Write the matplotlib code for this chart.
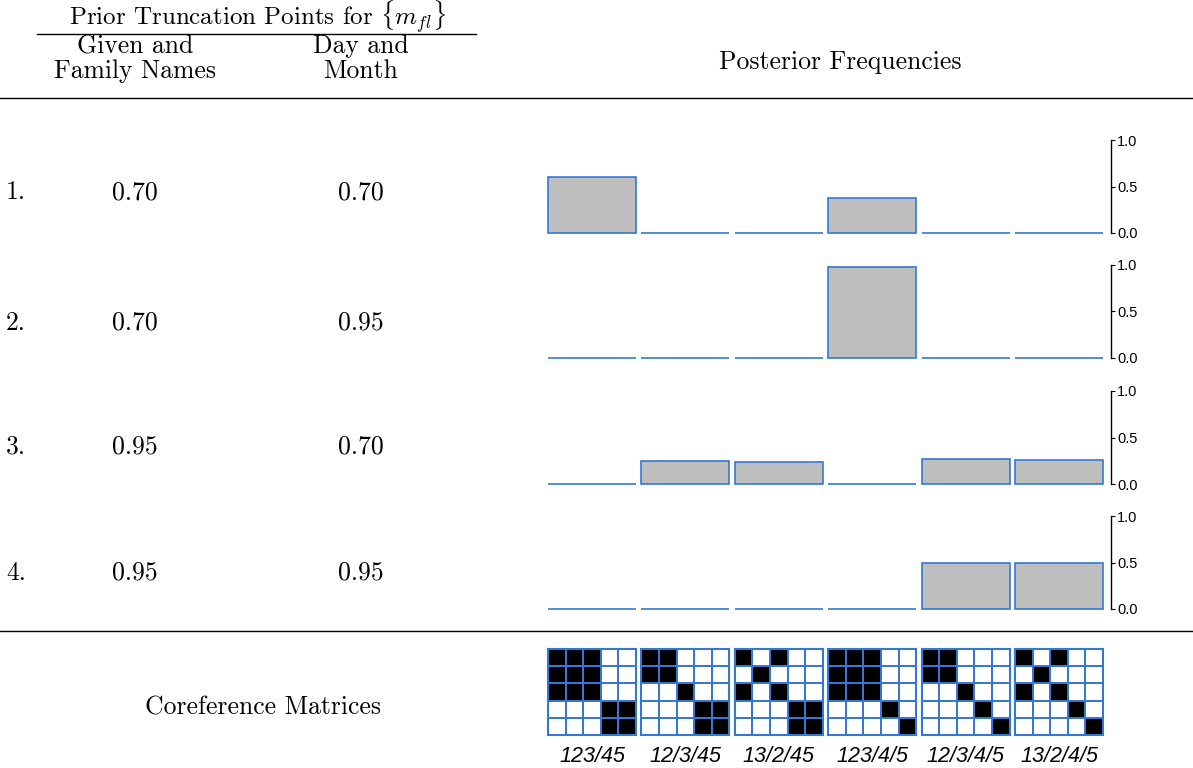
import matplotlib.pyplot as plt
import numpy as np

plt.rcParams['mathtext.fontset'] = 'cm'
plt.rcParams['axes.unicode_minus'] = False

# data
row_labels = ['1.', '2.', '3.', '4.']
given_names = ['0.70', '0.70', '0.95', '0.95']
day_month = ['0.70', '0.95', '0.70', '0.95']
partitions = ['123/45', '12/3/45', '13/2/45', '123/4/5', '12/3/4/5', '13/2/4/5']
# cluster id of records 1..5 for each partition
clusters = [
    [1, 1, 1, 2, 2],
    [1, 1, 2, 3, 3],
    [1, 2, 1, 3, 3],
    [1, 1, 1, 2, 3],
    [1, 1, 2, 3, 4],
    [1, 2, 1, 3, 4],
]
freq_1 = [0.60, 0.0, 0.0, 0.38, 0.0, 0.0]
freq_2 = [0.005, 0.0, 0.0, 0.98, 0.005, 0.005]
freq_3 = [0.0, 0.25, 0.24, 0.0, 0.267, 0.26]
freq_4 = [0.0, 0.0, 0.0, 0.0, 0.50, 0.50]
freqs = [freq_1, freq_2, freq_3, freq_4]

W, H = 1193, 768
blue = '#3478d4'
grey = '#bebebe'
serif = 'cmr10'
fs = 18.5

fig = plt.figure(figsize=(W / 100, H / 100), dpi=100)


def fx(x):
    return x / W


def fy(y):
    return 1 - y / H


def axes_px(left, top, width, height):
    return fig.add_axes([fx(left), fy(top + height), width / W, height / H])


# header text and rules
fig.text(fx(257), fy(26), r'Prior Truncation Points for $\{m_{fl}\}$',
         ha='center', va='baseline', fontsize=18, family=serif)
fig.add_artist(plt.Line2D([fx(37), fx(476)], [fy(34), fy(34)], color='black', lw=1))
fig.text(fx(135), fy(59), 'Given and\nFamily Names', ha='center', va='center',
         fontsize=fs, family=serif, linespacing=1.08)
fig.text(fx(361), fy(59), 'Day and\nMonth', ha='center', va='center',
         fontsize=fs, family=serif, linespacing=1.08)
fig.text(fx(840), fy(62), 'Posterior Frequencies', ha='center', va='center',
         fontsize=fs, family=serif)
fig.add_artist(plt.Line2D([0, 1], [fy(98), fy(98)], color='black', lw=1))
fig.add_artist(plt.Line2D([0, 1], [fy(631), fy(631)], color='black', lw=1))
fig.text(fx(263), fy(708), 'Coreference Matrices', ha='center', va='center',
         fontsize=fs, family=serif)

# rows of the table with bar panels
pitch = 93.4
bar_w = 88 / pitch
xpos = np.arange(len(partitions))
row_base = [199, 330, 454, 580]
axis_tops = [140, 265, 391, 516]
for i in range(len(freqs)):
    yb = row_base[i]
    fig.text(fx(6), fy(yb), row_labels[i], ha='left', va='baseline', fontsize=fs, family=serif)
    fig.text(fx(135), fy(yb), given_names[i], ha='center', va='baseline', fontsize=fs, family=serif)
    fig.text(fx(361), fy(yb), day_month[i], ha='center', va='baseline', fontsize=fs, family=serif)

    ax = axes_px(548, axis_tops[i], 1111 - 548, 93)
    ax.bar(xpos, freqs[i], width=bar_w, color=grey, edgecolor=blue, linewidth=1.2,
           clip_on=False)
    ax.set_xlim(-bar_w / 2, -bar_w / 2 + (1111 - 548) / pitch)
    ax.set_ylim(0, 1)
    for s in ['top', 'left', 'bottom']:
        ax.spines[s].set_visible(False)
    ax.spines['right'].set_bounds(0, 1)
    ax.spines['right'].set_linewidth(1)
    ax.yaxis.tick_right()
    ax.set_yticks([0.0, 0.5, 1.0])
    ax.set_yticklabels(['0.0', '0.5', '1.0'])
    ax.tick_params(axis='y', length=3, width=0.8, labelsize=10.5, pad=1.5)
    for lab in ax.get_yticklabels():
        lab.set_family('Liberation Sans')
    ax.set_xticks([])
    ax.patch.set_visible(False)

# coreference matrices
for k, part in enumerate(partitions):
    c = np.array(clusters[k])
    M = (c[:, None] == c[None, :]).astype(float)
    ax = axes_px(548 + k * pitch, 649, 88, 86)
    ax.pcolormesh(M, cmap='Greys', vmin=0, vmax=1, edgecolors=blue, linewidth=1.3)
    ax.set_xlim(0, 5)
    ax.set_ylim(5, 0)
    ax.set_xticks([])
    ax.set_yticks([])
    for s in ax.spines.values():
        s.set_color(blue)
        s.set_linewidth(1.5)
    fig.text(fx(548 + k * pitch + 44), fy(756), part, ha='center', va='center',
             fontsize=15.5, family='Liberation Sans', style='italic')

fig.savefig('out.png', dpi=100)
